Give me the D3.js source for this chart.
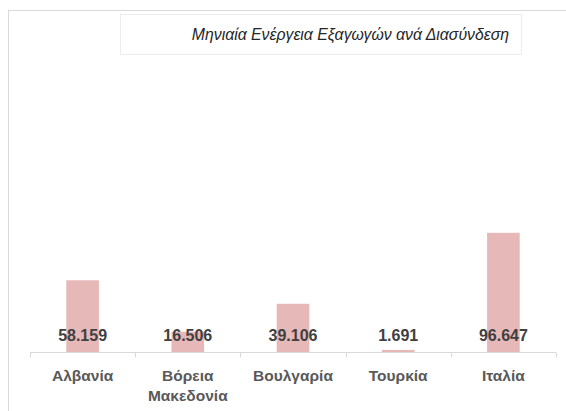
<!DOCTYPE html>
<html>
<head>
<meta charset="utf-8">
<script src="https://cdn.jsdelivr.net/npm/d3@7"></script>
<style>
  body { margin: 0; background: #fff; }
  svg { display: block; }
</style>
</head>
<body>
<div id="chart"></div>
<script>
// data
var categories = [["Αλβανία"], ["Βόρεια", "Μακεδονία"], ["Βουλγαρία"], ["Τουρκία"], ["Ιταλία"]];
var values = [58159, 16506, 39106, 1691, 96647];
var title = "Μηνιαία Ενέργεια Εξαγωγών ανά Διασύνδεση";

var width = 566, height = 411;
var fmt = d3.formatLocale({decimal: ",", thousands: ".", grouping: [3], currency: ["", "€"]}).format(",d");

var svg = d3.select("#chart").append("svg")
  .attr("width", width)
  .attr("height", height);

// outer chart frame
svg.append("rect")
  .attr("x", 8.5).attr("y", 10.5)
  .attr("width", 570).attr("height", 420)
  .attr("fill", "#fff")
  .attr("stroke", "#d9d9d9");

// title box
svg.append("rect")
  .attr("x", 120.5).attr("y", 14.5)
  .attr("width", 401).attr("height", 40)
  .attr("fill", "#fff")
  .attr("stroke", "#ececec");

svg.append("text")
  .attr("x", 509).attr("y", 40)
  .attr("text-anchor", "end")
  .attr("font-family", "Liberation Sans, Arial, sans-serif")
  .attr("font-style", "italic")
  .attr("font-size", 15.8)
  .attr("fill", "#262626")
  .text(title);

var x = d3.scaleBand()
  .domain(d3.range(categories.length))
  .range([30, 556])
  .paddingInner(0.69)
  .paddingOuter(0.345);

var y = d3.scaleLinear()
  .domain([0, 120000])
  .range([352, 204]);

var bars = svg.append("g");
bars.selectAll(".bar").data(values)
  .join("rect")
  .attr("class", "bar")
  .attr("x", (d, i) => x(i))
  .attr("y", d => y(d))
  .attr("width", x.bandwidth())
  .attr("height", d => y(0) - y(d))
  .attr("fill", "#e6b8b7");

// category axis
var step = (556 - 30) / categories.length;
var axis = svg.append("g").attr("transform", "translate(0,352.5)");
axis.append("line")
  .attr("x1", 30).attr("x2", 556)
  .attr("stroke", "#d9d9d9");
axis.selectAll(".tick").data(d3.range(categories.length + 1))
  .join("line")
  .attr("class", "tick")
  .attr("x1", i => Math.round(30 + i * step) + 0.5)
  .attr("x2", i => Math.round(30 + i * step) + 0.5)
  .attr("y1", 0).attr("y2", 5)
  .attr("stroke", "#d9d9d9");

// value labels
svg.selectAll(".val").data(values)
  .join("text")
  .attr("class", "val")
  .attr("x", (d, i) => x(i) + x.bandwidth() / 2)
  .attr("y", 341)
  .attr("text-anchor", "middle")
  .attr("font-family", "Liberation Sans, Arial, sans-serif")
  .attr("font-weight", "bold")
  .attr("font-size", 16)
  .attr("fill", "#404040")
  .text(d => fmt(d));

// category labels
svg.selectAll(".cat").data(categories)
  .join("text")
  .attr("class", "cat")
  .attr("x", (d, i) => x(i) + x.bandwidth() / 2)
  .attr("y", 381)
  .attr("text-anchor", "middle")
  .attr("font-family", "Liberation Sans, Arial, sans-serif")
  .attr("font-weight", "bold")
  .attr("font-size", 15.5)
  .attr("fill", "#595959")
  .selectAll("tspan").data(d => d)
  .join("tspan")
  .attr("x", function() { return d3.select(this.parentNode).attr("x"); })
  .attr("dy", (d, i) => i === 0 ? 0 : 20)
  .text(d => d);
</script>
</body>
</html>
